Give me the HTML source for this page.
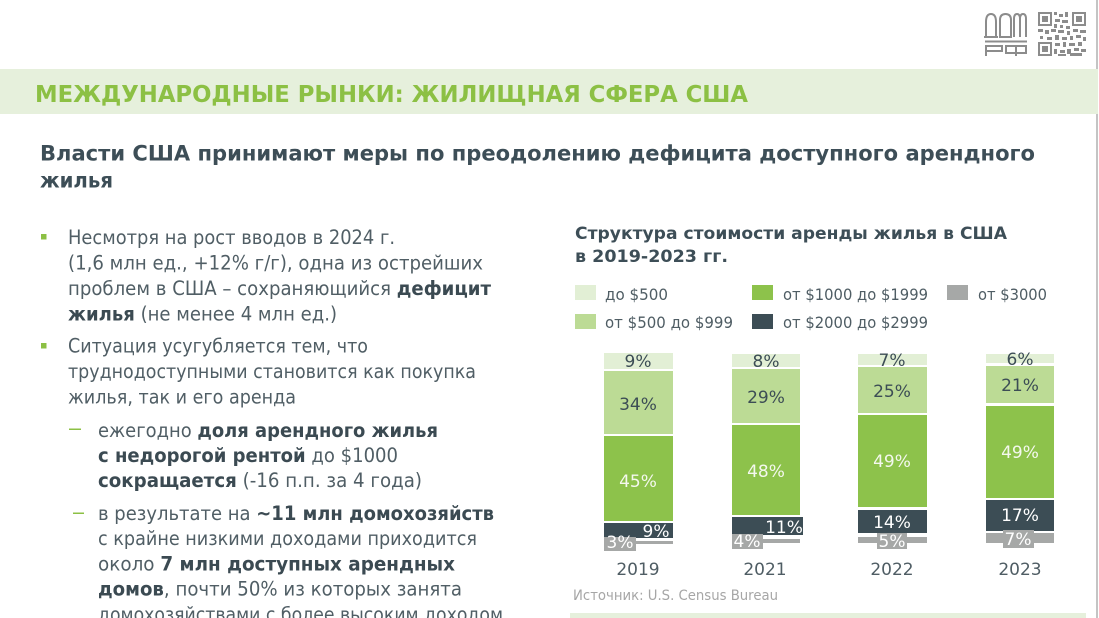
<!DOCTYPE html>
<html><head><meta charset="utf-8"><style>
html,body{margin:0;padding:0;background:#fff;}
svg{display:block;}
text{font-family:"DejaVu Sans","Liberation Sans",sans-serif;}
.b{font-weight:bold;}
</style></head><body>
<svg width="1099" height="618" viewBox="0 0 1099 618" xmlns="http://www.w3.org/2000/svg">
<rect x="0" y="0" width="1099" height="618" fill="#fff"/>
<!-- right edge line -->
<rect x="1096.5" y="0" width="1" height="618" fill="#8a8a8a"/>
<!-- header band -->
<rect x="0" y="69" width="1098" height="45" fill="#e6f0dc"/>
<text x="35" y="102" font-size="23.5" class="b" fill="#8cc044" textLength="713" lengthAdjust="spacingAndGlyphs">МЕЖДУНАРОДНЫЕ РЫНКИ: ЖИЛИЩНАЯ СФЕРА США</text>

<!-- logo -->
<g fill="none" stroke="#8c8c8c" stroke-width="2">
  <path d="M986 37 V22 Q986 14 991 14 Q996 14 996 22 V37 M984 37 H998"/>
  <path d="M1000 37 V20 Q1000 14 1005.5 14 Q1011 14 1011 20 V37 Z"/>
  <path d="M1014 37 V19 Q1014 14 1017 14 Q1020 14 1020 19 V37 M1020 19 Q1020 14 1023 14 Q1026 14 1026 19 V37"/>
  <path d="M985 41.5 H1027"/>
  <path d="M986 56 V46 H1002 V51 H986"/>
  <path d="M1006 46 H1026 V53 H1006 Z M1016 45 V56"/>
</g>
<!-- QR -->
<g fill="#8c8c8c">
  <rect x="1038" y="12" width="14" height="14"/><rect x="1040" y="14" width="10" height="10" fill="#fff"/><rect x="1042" y="16" width="6" height="6"/>
  <rect x="1072" y="12" width="14" height="14"/><rect x="1074" y="14" width="10" height="10" fill="#fff"/><rect x="1076" y="16" width="6" height="6"/>
  <rect x="1038" y="42" width="14" height="14"/><rect x="1040" y="44" width="10" height="10" fill="#fff"/><rect x="1042" y="46" width="6" height="6"/>
  <rect x="1054" y="12" width="3" height="3"/><rect x="1059" y="14" width="4" height="3"/><rect x="1065" y="12" width="3" height="5"/>
  <rect x="1055" y="19" width="5" height="3"/><rect x="1062" y="20" width="6" height="3"/><rect x="1054" y="24" width="3" height="4"/>
  <rect x="1060" y="25" width="3" height="3"/><rect x="1066" y="26" width="4" height="3"/><rect x="1038" y="29" width="5" height="3"/>
  <rect x="1045" y="30" width="4" height="4"/><rect x="1051" y="29" width="5" height="3"/><rect x="1058" y="30" width="6" height="3"/>
  <rect x="1067" y="31" width="3" height="4"/><rect x="1073" y="29" width="5" height="3"/><rect x="1080" y="30" width="6" height="3"/>
  <rect x="1040" y="36" width="3" height="3"/><rect x="1047" y="37" width="5" height="3"/><rect x="1055" y="35" width="4" height="5"/>
  <rect x="1062" y="37" width="5" height="3"/><rect x="1070" y="36" width="3" height="4"/><rect x="1076" y="35" width="5" height="3"/>
  <rect x="1083" y="37" width="3" height="4"/><rect x="1055" y="43" width="5" height="3"/><rect x="1063" y="42" width="3" height="5"/>
  <rect x="1069" y="43" width="6" height="3"/><rect x="1078" y="42" width="4" height="4"/><rect x="1054" y="49" width="3" height="5"/>
  <rect x="1060" y="50" width="5" height="3"/><rect x="1067" y="49" width="4" height="5"/><rect x="1074" y="48" width="5" height="3"/>
  <rect x="1081" y="49" width="5" height="3"/><rect x="1058" y="54" width="8" height="2"/><rect x="1070" y="53" width="12" height="3"/>
</g>

<!-- subtitle -->
<text x="40" y="160.5" font-size="21" class="b" fill="#3d4e57" textLength="995" lengthAdjust="spacingAndGlyphs">Власти США принимают меры по преодолению дефицита доступного арендного</text>
<text x="40" y="187.5" font-size="21" class="b" fill="#3d4e57" textLength="73" lengthAdjust="spacingAndGlyphs">жилья</text>

<!-- body text -->
<g font-size="19.5" fill="#505e65">
  <rect x="41" y="234" width="5.5" height="5.5" fill="#8cc044" stroke="none"/>
  <text x="68" y="244" textLength="327" lengthAdjust="spacingAndGlyphs">Несмотря на рост вводов в 2024 г.</text>
  <text x="68" y="269.5" textLength="415" lengthAdjust="spacingAndGlyphs">(1,6 млн ед., +12% г/г), одна из острейших</text>
  <text x="68" y="295" textLength="423" lengthAdjust="spacingAndGlyphs">проблем в США – сохраняющийся <tspan class="b" fill="#3b4a52">дефицит</tspan></text>
  <text x="68" y="320.5" textLength="269" lengthAdjust="spacingAndGlyphs"><tspan class="b" fill="#3b4a52">жилья</tspan> (не менее 4 млн ед.)</text>
  <rect x="41" y="343" width="5.5" height="5.5" fill="#8cc044" stroke="none"/>
  <text x="68" y="352.5" textLength="300" lengthAdjust="spacingAndGlyphs">Ситуация усугубляется тем, что</text>
  <text x="68" y="378" textLength="408" lengthAdjust="spacingAndGlyphs">труднодоступными становится как покупка</text>
  <text x="68" y="403.5" textLength="228" lengthAdjust="spacingAndGlyphs">жилья, так и его аренда</text>
  <rect x="69" y="428.5" width="12" height="1.5" fill="#8cc044"/>
  <text x="98" y="437" textLength="340" lengthAdjust="spacingAndGlyphs">ежегодно <tspan class="b" fill="#3b4a52">доля арендного жилья</tspan></text>
  <text x="98" y="462" textLength="300" lengthAdjust="spacingAndGlyphs"><tspan class="b" fill="#3b4a52">с недорогой рентой</tspan> до $1000</text>
  <text x="98" y="487" textLength="324" lengthAdjust="spacingAndGlyphs"><tspan class="b" fill="#3b4a52">сокращается</tspan> (-16 п.п. за 4 года)</text>
  <rect x="73" y="512.5" width="11" height="1.5" fill="#8cc044"/>
  <text x="98" y="520" textLength="396" lengthAdjust="spacingAndGlyphs">в результате на <tspan class="b" fill="#3b4a52">~11 млн домохозяйств</tspan></text>
  <text x="98" y="545" textLength="379" lengthAdjust="spacingAndGlyphs">с крайне низкими доходами приходится</text>
  <text x="98" y="570.5" textLength="357" lengthAdjust="spacingAndGlyphs">около <tspan class="b" fill="#3b4a52">7 млн доступных арендных</tspan></text>
  <text x="98" y="595.5" textLength="364" lengthAdjust="spacingAndGlyphs"><tspan class="b" fill="#3b4a52">домов</tspan>, почти 50% из которых занята</text>
  <text x="98" y="621" textLength="405" lengthAdjust="spacingAndGlyphs">домохозяйствами с более высоким доходом</text>
</g>

<!-- chart title -->
<text x="575" y="239" font-size="16.5" class="b" fill="#3d4e57" textLength="432" lengthAdjust="spacingAndGlyphs">Структура стоимости аренды жилья в США</text>
<text x="575" y="262" font-size="16.5" class="b" fill="#3d4e57" textLength="153" lengthAdjust="spacingAndGlyphs">в 2019-2023 гг.</text>

<!-- legend -->
<rect x="575" y="285" width="21" height="15" fill="#e2efd5"/>
<rect x="575" y="314" width="21" height="15" fill="#bcdb95"/>
<rect x="752" y="285" width="21" height="15" fill="#8dc24b"/>
<rect x="752" y="314" width="21" height="15" fill="#3c4d55"/>
<rect x="947" y="285" width="21" height="15" fill="#a6a8a7"/>
<g font-size="16" fill="#4f5d64">
  <text x="605" y="300" textLength="63" lengthAdjust="spacingAndGlyphs">до $500</text>
  <text x="605" y="328" textLength="128" lengthAdjust="spacingAndGlyphs">от $500 до $999</text>
  <text x="783" y="300" textLength="145" lengthAdjust="spacingAndGlyphs">от $1000 до $1999</text>
  <text x="783" y="328" textLength="145" lengthAdjust="spacingAndGlyphs">от $2000 до $2999</text>
  <text x="978" y="300" textLength="69" lengthAdjust="spacingAndGlyphs">от $3000</text>
</g>

<!-- bars -->
<!-- 2019 -->
<rect x="604" y="353" width="69" height="16" fill="#e2efd5"/>
<rect x="604" y="371" width="69" height="63" fill="#bcdb95"/>
<rect x="604" y="436" width="69" height="85" fill="#8dc24b"/>
<rect x="604" y="523" width="69" height="15" fill="#3c4d55"/>
<rect x="604" y="541" width="69" height="3" fill="#a6a8a7"/>
<rect x="604" y="537" width="32" height="14" fill="#a6a8a7"/>
<!-- 2021 -->
<rect x="732" y="354" width="68" height="13" fill="#e2efd5"/>
<rect x="732" y="369" width="68" height="54" fill="#bcdb95"/>
<rect x="732" y="425" width="68" height="90" fill="#8dc24b"/>
<rect x="732" y="517" width="71" height="18" fill="#3c4d55"/>
<rect x="732" y="539" width="68" height="4" fill="#a6a8a7"/>
<rect x="732" y="534" width="31" height="15" fill="#a6a8a7"/>
<!-- 2022 -->
<rect x="858" y="354" width="69" height="11" fill="#e2efd5"/>
<rect x="858" y="367" width="69" height="46" fill="#bcdb95"/>
<rect x="858" y="415" width="69" height="92" fill="#8dc24b"/>
<rect x="858" y="510" width="69" height="23" fill="#3c4d55"/>
<rect x="858" y="537" width="69" height="6" fill="#a6a8a7"/>
<rect x="877" y="533" width="30" height="16" fill="#a6a8a7"/>
<!-- 2023 -->
<rect x="986" y="354" width="68" height="9" fill="#e2efd5"/>
<rect x="986" y="366" width="68" height="37" fill="#bcdb95"/>
<rect x="986" y="406" width="68" height="92" fill="#8dc24b"/>
<rect x="986" y="500" width="68" height="31" fill="#3c4d55"/>
<rect x="986" y="533" width="68" height="10" fill="#a6a8a7"/>
<rect x="1003" y="530" width="31" height="18" fill="#a6a8a7"/>

<g font-size="17" text-anchor="middle">
  <text x="638" y="367" fill="#3c4d55">9%</text>
  <text x="638" y="410" fill="#3c4d55">34%</text>
  <text x="638" y="487" fill="#f4f8ee">45%</text>
  <text x="656" y="537" fill="#fff">9%</text>
  <text x="620" y="548" fill="#fff">3%</text>

  <text x="766" y="367" fill="#3c4d55">8%</text>
  <text x="766" y="403" fill="#3c4d55">29%</text>
  <text x="766" y="477" fill="#f4f8ee">48%</text>
  <text x="784" y="533" fill="#fff">11%</text>
  <text x="747" y="547" fill="#fff">4%</text>

  <text x="892" y="366" fill="#3c4d55">7%</text>
  <text x="892" y="397" fill="#3c4d55">25%</text>
  <text x="892" y="467" fill="#f4f8ee">49%</text>
  <text x="892" y="528" fill="#fff">14%</text>
  <text x="892" y="547" fill="#fff">5%</text>

  <text x="1020" y="365" fill="#3c4d55">6%</text>
  <text x="1020" y="391" fill="#3c4d55">21%</text>
  <text x="1020" y="458" fill="#f4f8ee">49%</text>
  <text x="1020" y="521" fill="#fff">17%</text>
  <text x="1018" y="545" fill="#fff">7%</text>
</g>

<!-- years -->
<g font-size="17" fill="#4f5d64" text-anchor="middle">
  <text x="638" y="575">2019</text>
  <text x="765" y="575">2021</text>
  <text x="892" y="575">2022</text>
  <text x="1020" y="575">2023</text>
</g>

<text x="573" y="600" font-size="14" fill="#a6a6a6" textLength="205" lengthAdjust="spacingAndGlyphs">Источник: U.S. Census Bureau</text>

<rect x="570" y="613" width="516" height="5" fill="#e6f0dc"/>
</svg>
</body></html>
